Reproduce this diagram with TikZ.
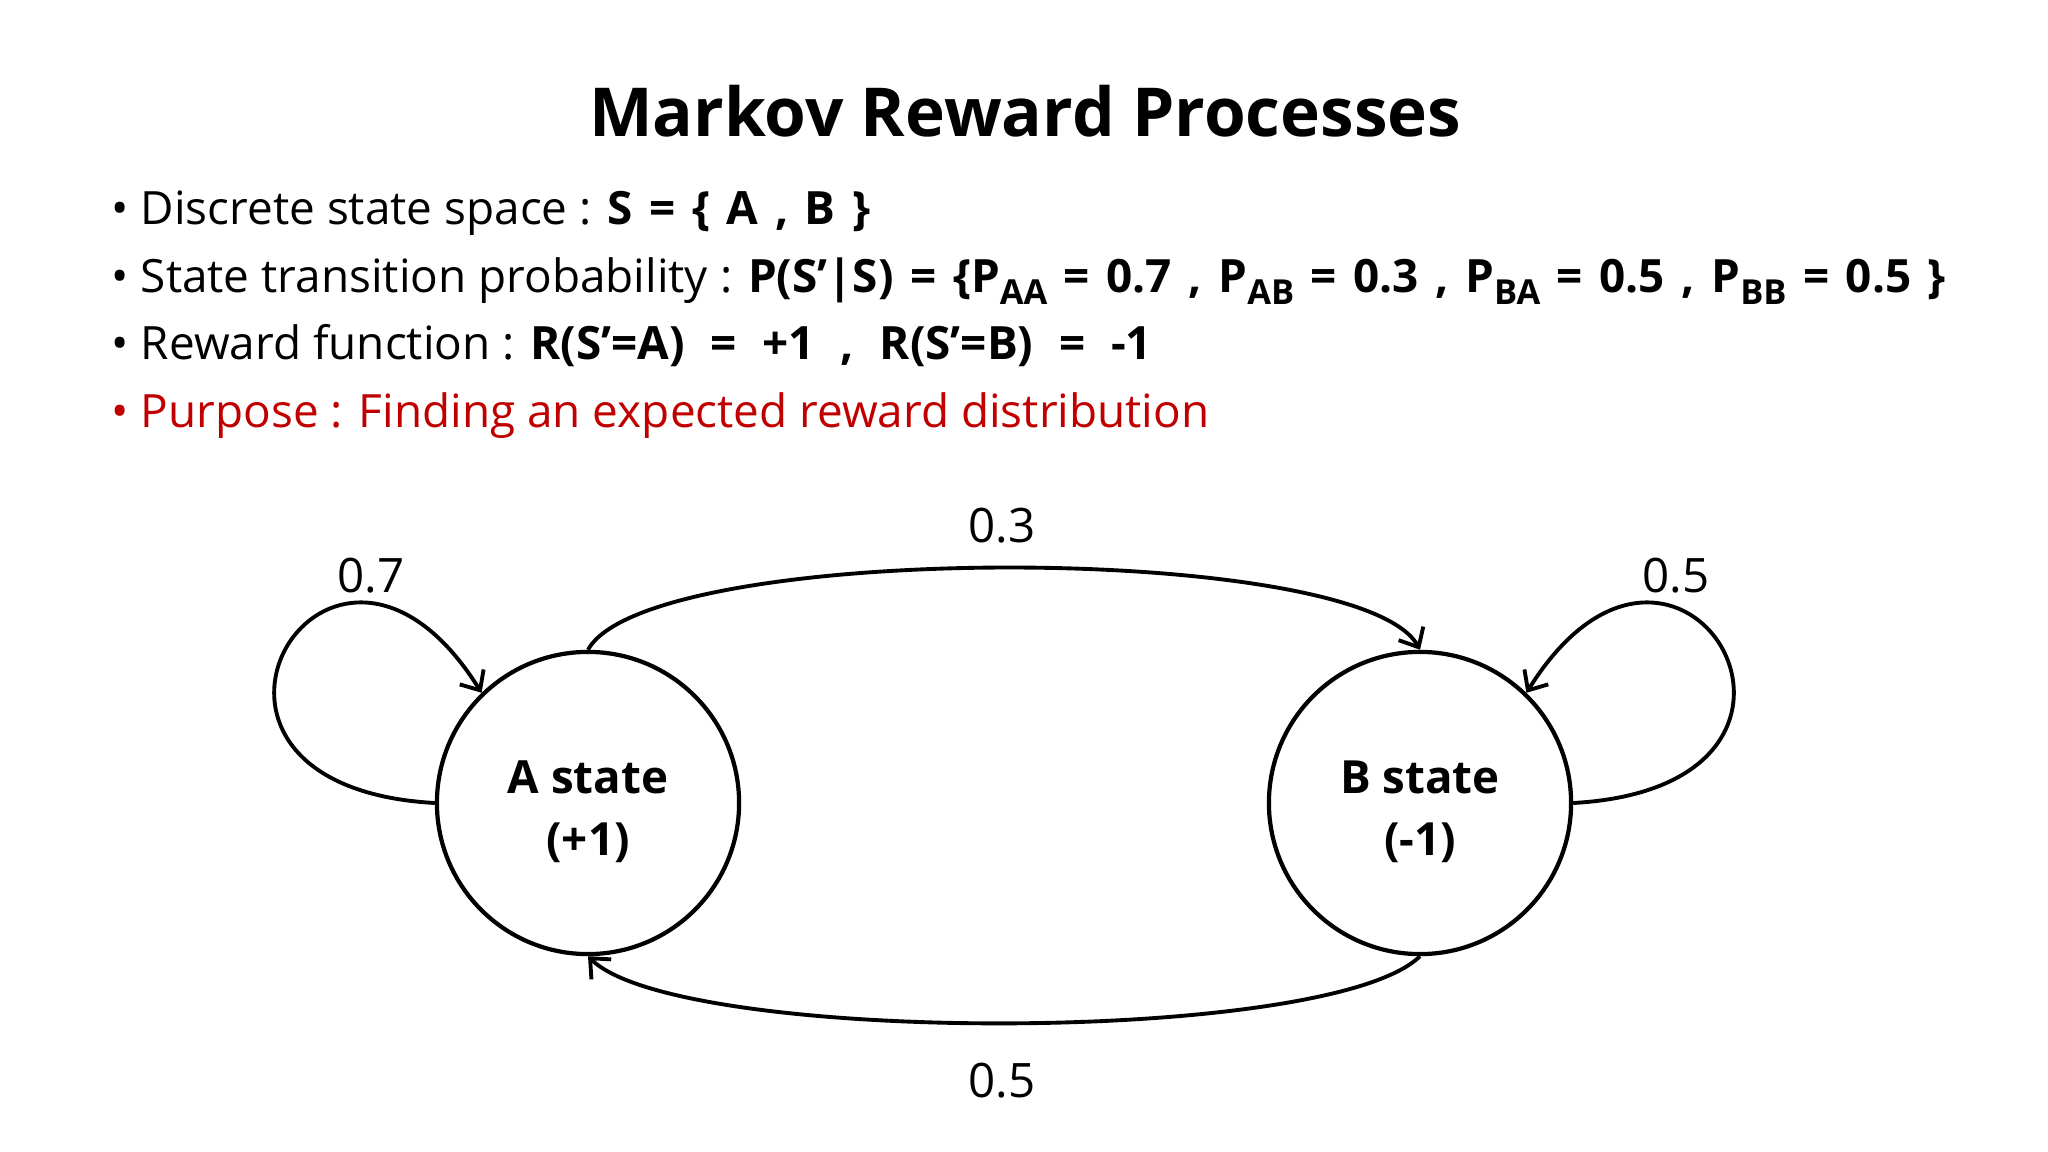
\documentclass[tikz,border=0pt]{standalone}
\usepackage{fontspec}
\setmainfont{Open Sans}
\usetikzlibrary{arrows.meta}
\definecolor{slidered}{RGB}{192,0,0}
\newcommand{\psub}[1]{\raisebox{-0.45ex}{\fontsize{9.8}{12}\selectfont #1}}
\newcommand{\bpart}[2][0.36em]{{\bfseries\spaceskip=#1\relax #2}}
\newcommand{\lowstrut}{\rule{0pt}{14.5pt}}
\tikzset{
  bline/.style={anchor=base west,inner sep=0pt,font=\fontsize{13.05}{16}\selectfont},
  statenode/.style={draw,circle,line width=1.2pt,minimum size=3.02cm,
                    align=center,font=\bfseries\fontsize{13}{17.6}\selectfont},
  prob/.style={anchor=base,inner sep=0pt,font=\fontsize{13.5}{16}\selectfont},
  arr/.style={-{Straight Barb[length=4.5pt,width=8pt]},line width=1.1pt},
}
\begin{document}
\begin{tikzpicture}[x=0.01cm,y=-0.01cm]
  \useasboundingbox (0,0) rectangle (2048,1152);
  % title and bullets
  \node[anchor=base,inner sep=0pt,font=\bfseries\fontsize{19.2}{23}\selectfont] (title) at (1025,137) {Markov Reward Processes};
  \node[bline] (l1) at (111,225) {\textbullet\ Discrete state space : \bpart{S = \{ A , B \}}};
  \node[bline] (l2) at (111,293) {\textbullet\ State transition probability : \bpart{P(S’|S) = \{P\psub{AA} = 0.7 , P\psub{AB} = 0.3 , P\psub{BA} = 0.5 , P\psub{BB} = 0.5 \}}};
  \node[bline] (l3) at (111,360) {\textbullet\ Reward function : \bpart[0.56em]{R(S’=A) = +1 , R(S’=B) = -1}};
  \node[bline,text=slidered] (l4) at (111,428) {\textbullet\ Purpose : Finding an expected reward distribution};

  % states
  \node[statenode] (A) at (588,803) {\lowstrut A state\\(+1)};
  \node[statenode] (B) at (1420,803) {\lowstrut B state\\(-1)};

  % transitions
  \draw[arr] (A.west) .. controls +(-307,-17) and +(-153,-245) .. (A.134);
  \draw[arr] (B.east) .. controls +(307,-17) and +(153,-245) .. (B.46);
  \draw[arr] (A.north) .. controls +(60,-109) and +(-60,-109) .. (B.north);
  \draw[arr] (B.south) .. controls +(-90,89) and +(90,89) .. (A.south);

  \node[prob] (pAA) at (371,593) {0.7};
  \node[prob] (pBB) at (1676,593) {0.5};
  \node[prob] (pAB) at (1002,543) {0.3};
  \node[prob] (pBA) at (1002,1097) {0.5};
\end{tikzpicture}
\end{document}
